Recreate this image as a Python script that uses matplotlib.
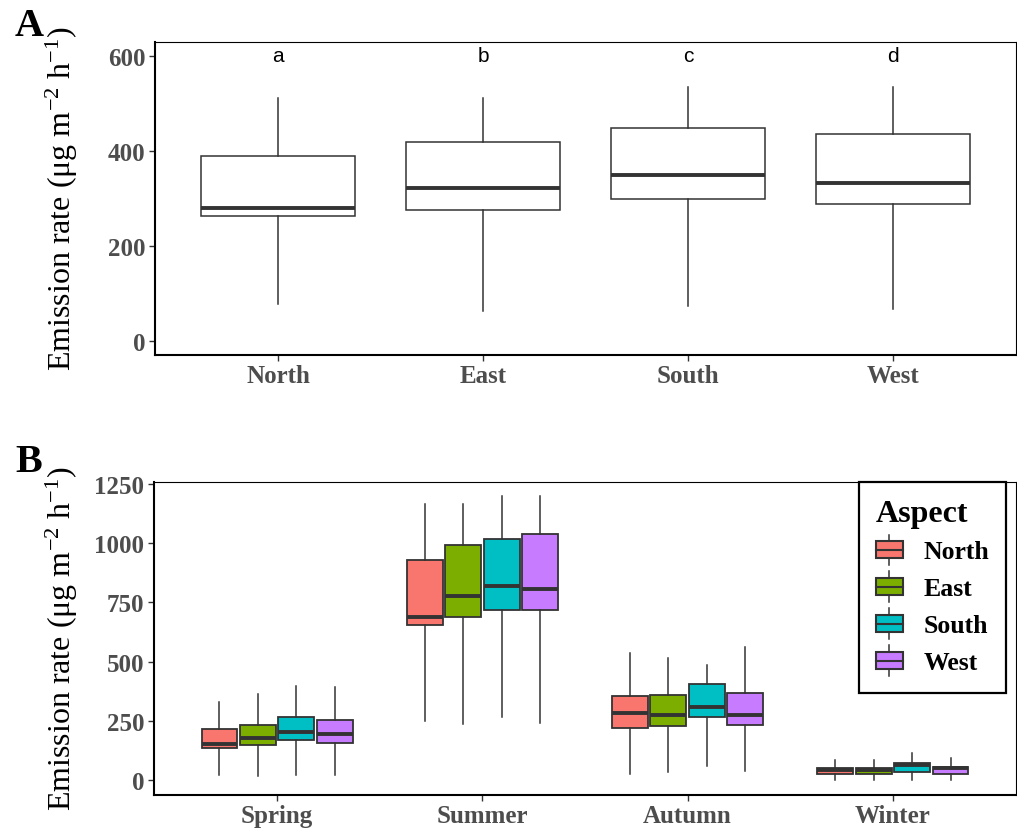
import numpy as np
import matplotlib
matplotlib.use('Agg')
import matplotlib.pyplot as plt
from matplotlib.patches import Rectangle, Patch
from matplotlib.lines import Line2D
from matplotlib.legend_handler import HandlerBase

plt.rcParams['font.family'] = ['Liberation Serif', 'DejaVu Serif']
plt.rcParams['mathtext.fontset'] = 'custom'
plt.rcParams['mathtext.rm'] = 'Liberation Serif'
plt.rcParams['mathtext.it'] = 'Liberation Serif:italic'

# panel A: emission rate by aspect
aspects = ['North', 'East', 'South', 'West']
a_whislo = [78, 64, 74, 68]
a_q1 = [264, 277, 299, 289]
a_med = [281, 322, 350, 333]
a_q3 = [390, 418, 449, 436]
a_whishi = [512, 511, 535, 535]
letters = ['a', 'b', 'c', 'd']
letter_y = 600

# panel B: emission rate by season, rows = aspect, cols = season
seasons = ['Spring', 'Summer', 'Autumn', 'Winter']
b_whislo = [[24, 249, 25, 2], [20, 238, 36, 2], [24, 267, 60, 2], [24, 242, 39, 2]]
b_q1 = [[138, 656, 222, 28], [147, 689, 229, 28], [169, 716, 265, 35], [158, 719, 235, 28]]
b_med = [[151, 689, 285, 44], [178, 775, 274, 42], [203, 817, 310, 63], [193, 806, 277, 50]]
b_q3 = [[214, 929, 355, 53], [235, 992, 359, 53], [268, 1017, 404, 74], [256, 1040, 367, 57]]
b_whishi = [[328, 1163, 535, 87], [362, 1163, 517, 87], [397, 1197, 485, 116], [391, 1197, 563, 94]]

colors = ['#F8766D', '#7CAE00', '#00BFC4', '#C77CFF']
edge = '#333333'
tick_col = '#4D4D4D'

W, H = 1017, 829
fig = plt.figure(figsize=(W / 100, H / 100), dpi=100)


def px_axes(left, top, right, bottom):
    return fig.add_axes([left / W, 1 - bottom / H, (right - left) / W, (bottom - top) / H])


def style_axes(ax):
    for s in ['left', 'bottom']:
        ax.spines[s].set_linewidth(1.5)
    for s in ['top', 'right']:
        ax.spines[s].set_linewidth(0.8)
    for s in ax.spines.values():
        s.set_color('black')
    ax.tick_params(axis='both', length=4, width=1, color=edge, colors=tick_col)
    ax.tick_params(axis='y', labelsize=18, pad=3)
    ax.tick_params(axis='x', labelsize=18, pad=2.5)
    for lab in ax.get_xticklabels() + ax.get_yticklabels():
        lab.set_fontweight('bold')
        lab.set_color(tick_col)


def make_stats(lo, q1, med, q3, hi):
    return [dict(whislo=a, q1=b, med=c, q3=d, whishi=e, fliers=[])
            for a, b, c, d, e in zip(lo, q1, med, q3, hi)]


# ---- panel A
axA = px_axes(155, 42.7, 1016, 356)
pos = np.arange(1, len(aspects) + 1)
axA.bxp(make_stats(a_whislo, a_q1, a_med, a_q3, a_whishi), positions=pos, widths=0.75,
        patch_artist=True, showfliers=False, showcaps=False,
        boxprops=dict(facecolor='white', edgecolor=edge, linewidth=1.1),
        whiskerprops=dict(color=edge, linewidth=1.1),
        medianprops=dict(color=edge, linewidth=2.8, solid_capstyle='butt'))
for p, t in zip(pos, letters):
    axA.text(p, letter_y, t, ha='center', va='center', fontsize=15, family='Liberation Sans')
axA.set_xlim(0.4, 4.6)
axA.set_ylim(-29, 630)
axA.set_yticks([0, 200, 400, 600])
axA.set_xticks(pos)
axA.set_xticklabels(aspects)
style_axes(axA)

# ---- panel B
axB = px_axes(154, 482.8, 1016, 795.5)
bw = 0.75 / 4
for j, (c, asp) in enumerate(zip(colors, aspects)):
    p = pos + (j - 1.5) * bw
    axB.bxp(make_stats(b_whislo[j], b_q1[j], b_med[j], b_q3[j], b_whishi[j]), positions=p,
            widths=bw * 0.93, patch_artist=True, showfliers=False, showcaps=False,
            boxprops=dict(facecolor=c, edgecolor=edge, linewidth=1.3),
            whiskerprops=dict(color=edge, linewidth=1.1),
            medianprops=dict(color=edge, linewidth=2.8, solid_capstyle='butt'))
axB.set_xlim(0.4, 4.6)
axB.set_ylim(-60, 1258)
axB.set_yticks([0, 250, 500, 750, 1000, 1250])
axB.set_xticks(pos)
axB.set_xticklabels(seasons)
style_axes(axB)


class BoxHandler(HandlerBase):
    def create_artists(self, legend, orig_handle, xdescent, ydescent, width, height, fontsize, trans):
        fc = orig_handle.get_facecolor()
        x0 = -xdescent
        y00 = -ydescent
        bh = height * 0.56
        y0 = y00 + (height - bh) / 2
        cx = x0 + width / 2
        w1 = Line2D([cx, cx], [y00, y0], color=edge, lw=1.1, transform=trans)
        w2 = Line2D([cx, cx], [y0 + bh, y00 + height], color=edge, lw=1.1, transform=trans)
        rect = Rectangle((x0, y0), width, bh, facecolor=fc, edgecolor=edge, lw=1.5, transform=trans)
        med = Line2D([x0, x0 + width], [y0 + bh / 2] * 2, color=edge, lw=1.5, transform=trans)
        return [w1, w2, rect, med]


handles = [Patch(facecolor=c) for c in colors]
leg = axB.legend(handles, aspects, handler_map={Patch: BoxHandler()},
                 loc='upper left', bbox_to_anchor=(0.818, 0.998), borderaxespad=0,
                 title='Aspect', alignment='left', fancybox=False, framealpha=1,
                 edgecolor='black', handlelength=1.05, handleheight=1.45,
                 labelspacing=0.25, handletextpad=0.8, borderpad=0.65,
                 prop=dict(family='Liberation Serif', weight='bold', size=18.5),
                 title_fontproperties=dict(family='Liberation Serif', weight='bold', size=23))
leg.get_frame().set_linewidth(1.6)

# axis labels and panel tags
ylab = 'Emission rate (μg m$^{-2}$ h$^{-1}$)'
fig.text(62 / W, 1 - 199 / H, ylab, rotation=90, ha='center', va='center', fontsize=23)
fig.text(62 / W, 1 - 639 / H, ylab, rotation=90, ha='center', va='center', fontsize=23)
fig.text(15 / W, 1 - 8 / H, 'A', ha='left', va='top', fontsize=29, fontweight='bold')
fig.text(15 / W, 1 - 444 / H, 'B', ha='left', va='top', fontsize=29, fontweight='bold')

fig.savefig('out.png', dpi=100)
